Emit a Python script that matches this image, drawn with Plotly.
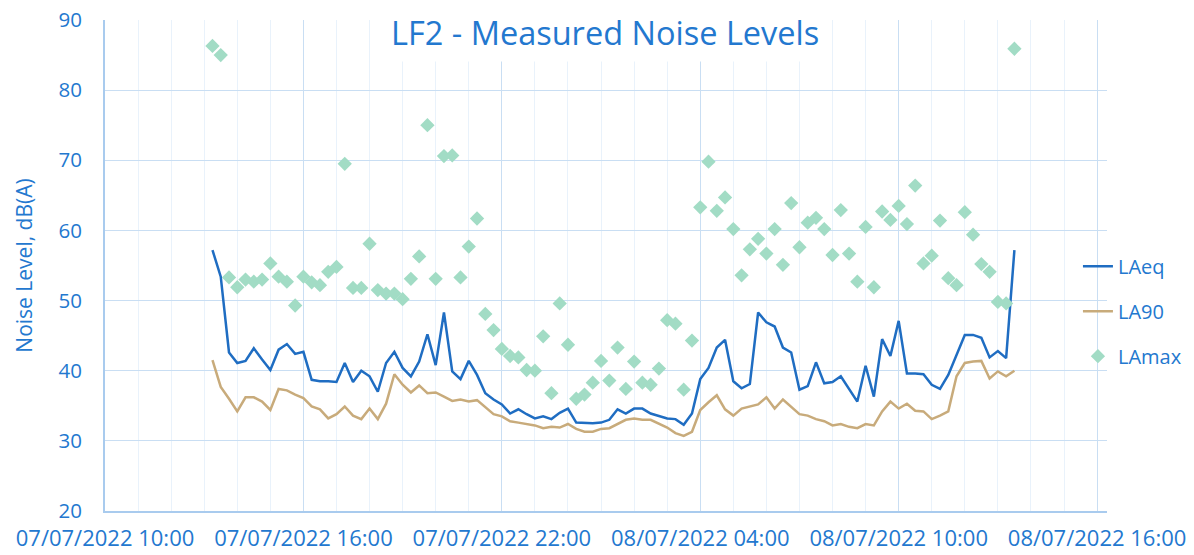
import pandas as pd
import plotly.graph_objects as go

start_time = "2022-07-07 13:15"
interval = "15min"

laeq = [57.2, 53.4, 42.6, 41.1, 41.4, 43.2, 41.6, 40.1, 43.0, 43.8,
        42.4, 42.7, 38.7, 38.5, 38.5, 38.4, 41.1, 38.4, 40.0, 39.2,
        37.0, 41.1, 42.7, 40.4, 39.2, 41.3, 45.2, 40.8, 48.3, 39.9,
        38.8, 41.4, 39.4, 36.8, 35.9, 35.2, 33.9, 34.5, 33.8, 33.2,
        33.5, 33.1, 34.0, 34.6, 32.6, 32.5, 32.5, 32.6, 33.0, 34.5,
        33.9, 34.6, 34.6, 33.9, 33.6, 33.2, 33.1, 32.3, 33.9, 38.8,
        40.4, 43.3, 44.4, 38.5, 37.5, 38.1, 48.3, 46.9, 46.3, 43.3,
        42.6, 37.3, 37.8, 41.2, 38.2, 38.4, 39.2, 37.4, 35.6, 40.7,
        36.3, 44.5, 42.1, 47.1, 39.6, 39.6, 39.5, 38.0, 37.4, 39.4,
        42.3, 45.1, 45.1, 44.7, 41.9, 42.8, 41.8, 57.2]

la90 = [41.5, 37.7, 36.0, 34.2, 36.2, 36.2, 35.6, 34.4, 37.4, 37.2,
        36.6, 36.1, 34.9, 34.5, 33.2, 33.8, 34.9, 33.6, 33.1, 34.6,
        33.1, 35.3, 39.5, 38.0, 36.9, 37.9, 36.8, 36.9, 36.3, 35.7,
        35.9, 35.6, 35.8, 34.8, 33.8, 33.5, 32.8, 32.6, 32.4, 32.2,
        31.8, 32.0, 31.9, 32.4, 31.7, 31.3, 31.3, 31.7, 31.8, 32.4,
        33.0, 33.2, 33.0, 33.0, 32.5, 31.9, 31.1, 30.7, 31.3, 34.4,
        35.5, 36.5, 34.5, 33.6, 34.6, 34.9, 35.2, 36.2, 34.6, 35.9,
        34.9, 33.8, 33.6, 33.1, 32.8, 32.2, 32.4, 32.0, 31.8, 32.4,
        32.2, 34.2, 35.6, 34.6, 35.3, 34.3, 34.2, 33.1, 33.6, 34.2,
        39.2, 41.1, 41.3, 41.4, 38.9, 39.9, 39.2, 40.0]

lamax = [86.3, 85.0, 53.3, 51.9, 53.0, 52.7, 53.0, 55.3, 53.4, 52.7,
         49.3, 53.4, 52.6, 52.2, 54.1, 54.8, 69.5, 51.8, 51.8, 58.1,
         51.5, 51.0, 51.0, 50.2, 53.1, 56.3, 75.0, 53.1, 70.6, 70.7,
         53.3, 57.7, 61.7, 48.1, 45.8, 43.1, 42.1, 41.9, 40.1, 40.0,
         44.9, 36.8, 49.6, 43.7, 36.0, 36.6, 38.3, 41.4, 38.6, 43.3,
         37.4, 41.3, 38.3, 38.0, 40.3, 47.2, 46.7, 37.3, 44.3, 63.3,
         69.8, 62.8, 64.7, 60.2, 53.6, 57.3, 58.8, 56.7, 60.2, 55.1,
         63.9, 57.6, 61.1, 61.8, 60.2, 56.5, 62.9, 56.7, 52.7, 60.5,
         51.9, 62.7, 61.5, 63.5, 60.9, 66.4, 55.3, 56.4, 61.4, 53.2,
         52.2, 62.6, 59.4, 55.2, 54.1, 49.8, 49.6, 85.9]

times = pd.date_range(start_time, periods=len(laeq), freq=interval)

title_text = "LF2 - Measured Noise Levels"
y_title = "Noise Level, dB(A)"

BLUE_TXT = "#2378CF"
GRID_MAJ = "#C9DEF3"
GRID_MIN = "#E9F2FB"
FONT = "Open Sans"

fig = go.Figure()
fig.add_trace(go.Scatter(x=times, y=laeq, mode="lines", name="LAeq",
                         line=dict(color="#1F6DC2", width=2.5), legendgroup="a"))
fig.add_trace(go.Scatter(x=times, y=la90, mode="lines", name="LA90",
                         line=dict(color="#C8AB7B", width=2.5), legendgroup="b"))
fig.add_trace(go.Scatter(x=times, y=lamax, mode="markers", name="LAmax",
                         marker=dict(symbol="diamond", size=11, color="#A2DCC5",
                                     line=dict(width=0)), legendgroup="c"))

# page body has an ~8px default margin, so the figure is sized to fit the window
fig.update_layout(
    width=1186, height=547,
    margin=dict(l=97, r=87, t=12, b=44, autoexpand=False),
    paper_bgcolor="white", plot_bgcolor="white",
    font=dict(family=FONT, color=BLUE_TXT, size=20),
    showlegend=True,
    legend=dict(x=0.971, xanchor="left", y=0.407, yanchor="middle",
                bgcolor="rgba(0,0,0,0)", font=dict(size=20, color=BLUE_TXT),
                traceorder="grouped", tracegroupgap=16),
    annotations=[dict(text=title_text, xref="paper", yref="paper",
                      x=0.4995, y=0.9145, xanchor="center", yanchor="bottom",
                      showarrow=False, bgcolor="white", borderpad=6,
                      font=dict(size=32.5, color=BLUE_TXT, family=FONT))],
)

fig.update_xaxes(
    type="date", automargin=False,
    range=["2022-07-07 10:00", "2022-07-08 16:18"],
    tick0="2022-07-07 10:00", dtick=6 * 3600 * 1000,
    tickformat="%d/%m/%Y %H:%M",
    showgrid=True, gridcolor=GRID_MAJ, gridwidth=1.3,
    minor=dict(dtick=3600 * 1000, tick0="2022-07-07 10:00", showgrid=True,
               gridcolor=GRID_MIN, gridwidth=1),
    showline=True, linecolor="#A9CBEE", linewidth=2,
    ticks="", ticklabelstandoff=7, ticklabeloverflow="allow",
    tickfont=dict(size=22, color=BLUE_TXT),
    zeroline=False,
)
fig.update_yaxes(
    automargin=False,
    range=[20, 90], dtick=10, tick0=20,
    showgrid=True, gridcolor=GRID_MAJ, gridwidth=1.3,
    showline=True, linecolor="#A9CBEE", linewidth=2,
    ticks="", ticklabelstandoff=17, ticklabeloverflow="allow",
    tickfont=dict(size=20.5, color=BLUE_TXT),
    title=dict(text=y_title, font=dict(size=21, color=BLUE_TXT), standoff=20),
    zeroline=False,
)

fig.write_html("out.html")
